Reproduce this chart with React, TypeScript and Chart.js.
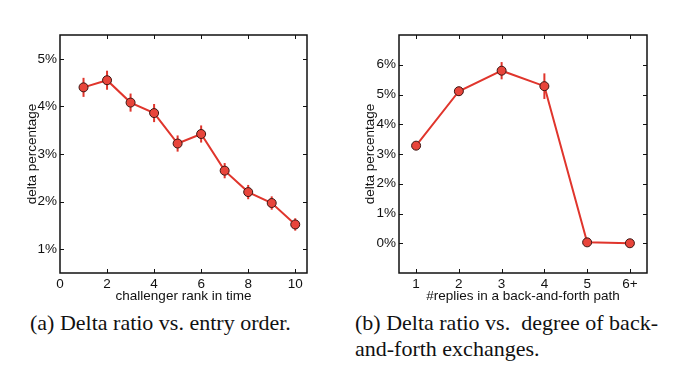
import React, { useEffect, useRef } from "react";
import { Chart, registerables } from "chart.js";
Chart.register(...registerables);

// (a) Delta ratio vs. entry order
const rankX = [1, 2, 3, 4, 5, 6, 7, 8, 9, 10];
const rankDelta = [4.4, 4.55, 4.08, 3.86, 3.22, 3.42, 2.65, 2.2, 1.97, 1.52];
const rankErr = [0.2, 0.2, 0.19, 0.19, 0.17, 0.18, 0.16, 0.15, 0.14, 0.13];
const rankXTicks = [0, 2, 4, 6, 8, 10];
const rankYTicks = [1, 2, 3, 4, 5];

// (b) Delta ratio vs. degree of back-and-forth exchanges
const replyX = [1, 2, 3, 4, 5, 6];
const replyLabels = ["1", "2", "3", "4", "5", "6+"];
const replyDelta = [3.28, 5.11, 5.8, 5.28, 0.03, 0.0];
const replyErr = [0.03, 0.15, 0.29, 0.43, 0.02, 0.01];
const replyYTicks = [0, 1, 2, 3, 4, 5, 6];

const RED = "#e0352c";
const FONT = "'Liberation Sans', Arial, Helvetica, sans-serif";

const framePlugin = {
  id: "frame",
  beforeDatasetsDraw(chart: any, _args: any, opts: any) {
    const { ctx } = chart;
    const xs = chart.scales.x;
    const ys = chart.scales.y;
    const errs: number[] = opts.errors || [];
    ctx.save();
    ctx.strokeStyle = RED;
    ctx.lineWidth = 2;
    chart.data.datasets[0].data.forEach((p: any, i: number) => {
      const e = errs[i] || 0;
      const x = xs.getPixelForValue(p.x);
      ctx.beginPath();
      ctx.moveTo(x, ys.getPixelForValue(p.y - e));
      ctx.lineTo(x, ys.getPixelForValue(p.y + e));
      ctx.stroke();
    });
    ctx.restore();
  },
  afterDraw(chart: any) {
    const { ctx, chartArea: a } = chart;
    const xs = chart.scales.x;
    const ys = chart.scales.y;
    const L = 4;
    ctx.save();
    ctx.strokeStyle = "#111";
    ctx.lineWidth = 1;
    ctx.beginPath();
    xs.ticks.forEach((t: any) => {
      const x = Math.round(xs.getPixelForValue(t.value)) + 0.5;
      if (x <= a.left + 1 || x >= a.right - 1) return;
      ctx.moveTo(x, a.bottom);
      ctx.lineTo(x, a.bottom - L);
      ctx.moveTo(x, a.top);
      ctx.lineTo(x, a.top + L);
    });
    ys.ticks.forEach((t: any) => {
      const y = Math.round(ys.getPixelForValue(t.value)) + 0.5;
      if (y <= a.top + 1 || y >= a.bottom - 1) return;
      ctx.moveTo(a.left, y);
      ctx.lineTo(a.left + L, y);
      ctx.moveTo(a.right, y);
      ctx.lineTo(a.right - L, y);
    });
    ctx.stroke();
    ctx.lineWidth = 1.5;
    ctx.strokeRect(a.left, a.top, a.right - a.left, a.bottom - a.top);
    ctx.restore();
  },
};

type Cfg = {
  xs: number[];
  ys: number[];
  errs: number[];
  xMin: number;
  xMax: number;
  yMin: number;
  yMax: number;
  xTicks: number[];
  yTicks: number[];
  xLabel: (v: number) => string;
  xTitle: string;
  yAxisWidth: number;
  padRight: number;
  yTitlePad: number;
};

function ChartPanel({ cfg, width, height, left }: { cfg: Cfg; width: number; height: number; left: number }) {
  const ref = useRef<HTMLCanvasElement>(null);
  useEffect(() => {
    const tickFont = { family: FONT, size: 13.5 };
    const chart = new Chart(ref.current!, {
      type: "line",
      data: {
        datasets: [
          {
            data: cfg.xs.map((x, i) => ({ x, y: cfg.ys[i] })),
            borderColor: RED,
            borderWidth: 2,
            backgroundColor: "#e8453b",
            pointBackgroundColor: "#e8453b",
            pointBorderColor: "#3a1512",
            pointBorderWidth: 1,
            pointRadius: 4.5,
            tension: 0,
          },
        ],
      },
      options: {
        responsive: false,
        animation: false,
        events: [],
        layout: { padding: { top: 35, right: cfg.padRight, bottom: 0, left: 0 } },
        plugins: {
          legend: { display: false },
          tooltip: { enabled: false },
          frame: { errors: cfg.errs },
        } as any,
        scales: {
          x: {
            type: "linear",
            min: cfg.xMin,
            max: cfg.xMax,
            grid: { display: false, drawTicks: false },
            border: { display: false },
            afterBuildTicks: (s: any) => {
              s.ticks = cfg.xTicks.map((v) => ({ value: v }));
            },
            afterFit: (s: any) => {
              s.height = 37;
            },
            ticks: {
              color: "#111",
              font: tickFont,
              padding: 3,
              maxRotation: 0,
              autoSkip: false,
              callback: (v: any) => cfg.xLabel(Number(v)),
            },
            title: {
              display: true,
              text: cfg.xTitle,
              color: "#111",
              font: tickFont,
              padding: { top: 0, bottom: 6 },
            },
          },
          y: {
            type: "linear",
            min: cfg.yMin,
            max: cfg.yMax,
            grid: { display: false, drawTicks: false },
            border: { display: false },
            afterBuildTicks: (s: any) => {
              s.ticks = cfg.yTicks.map((v) => ({ value: v }));
            },
            afterFit: (s: any) => {
              s.width = cfg.yAxisWidth;
            },
            ticks: {
              color: "#111",
              font: tickFont,
              padding: 3,
              autoSkip: false,
              callback: (v: any) => `${v}%`,
            },
            title: {
              display: true,
              text: "delta percentage",
              color: "#111",
              font: tickFont,
              padding: { top: cfg.yTitlePad, bottom: 0 },
            },
          },
        },
      } as any,
      plugins: [framePlugin],
    });
    return () => chart.destroy();
  }, []);
  return (
    <canvas
      ref={ref}
      width={width}
      height={height}
      style={{ position: "absolute", left, top: 0, width, height }}
    />
  );
}

const cfgA: Cfg = {
  xs: rankX,
  ys: rankDelta,
  errs: rankErr,
  xMin: 0,
  xMax: 10.5,
  yMin: 0.5,
  yMax: 5.5,
  xTicks: rankXTicks,
  yTicks: rankYTicks,
  xLabel: (v) => String(v),
  xTitle: "challenger rank in time",
  yAxisWidth: 60,
  padRight: 38,
  yTitlePad: 24,
};

const cfgB: Cfg = {
  xs: replyX,
  ys: replyDelta,
  errs: replyErr,
  xMin: 0.6,
  xMax: 6.4,
  yMin: -1,
  yMax: 7,
  xTicks: replyX,
  yTicks: replyYTicks,
  xLabel: (v) => replyLabels[replyX.indexOf(v)] ?? "",
  xTitle: "#replies in a back-and-forth path",
  yAxisWidth: 54,
  padRight: 42,
  yTitlePad: 17,
};

const captionStyle: React.CSSProperties = {
  position: "absolute",
  fontFamily: "'Liberation Serif', 'Times New Roman', serif",
  fontSize: 22,
  lineHeight: "26px",
  color: "#111",
  whiteSpace: "pre",
};

export default function App() {
  return (
    <div
      style={{
        position: "fixed",
        left: 0,
        top: 0,
        width: 689,
        height: 376,
        background: "#fff",
        overflow: "hidden",
      }}
    >
      <ChartPanel cfg={cfgA} width={345} height={310} left={0} />
      <ChartPanel cfg={cfgB} width={344} height={310} left={345} />
      <div style={{ ...captionStyle, left: 30, top: 310 }}>(a) Delta ratio vs. entry order.</div>
      <div style={{ ...captionStyle, left: 355, top: 310 }}>
        {"(b) Delta ratio vs.  degree of back-\nand-forth exchanges."}
      </div>
    </div>
  );
}
